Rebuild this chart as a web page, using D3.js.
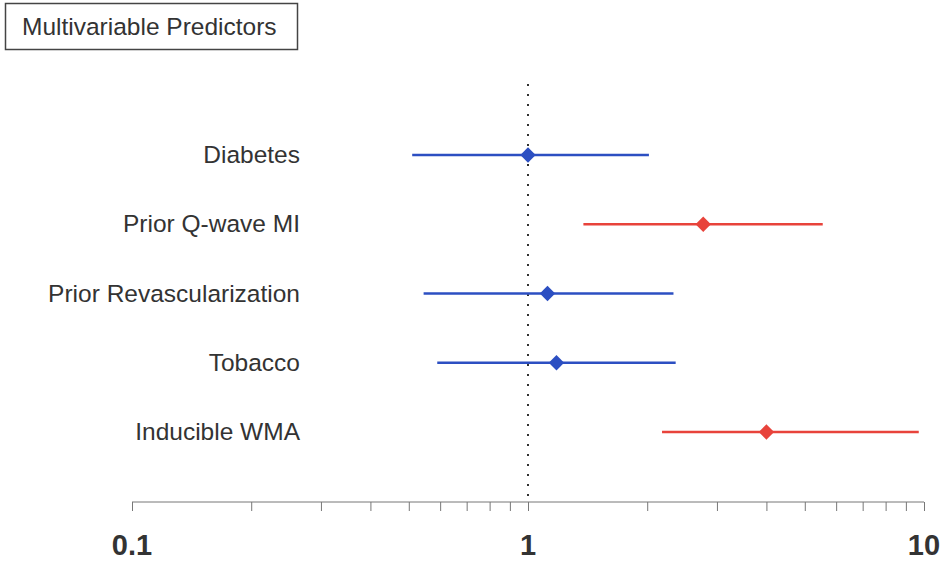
<!DOCTYPE html>
<html>
<head>
<meta charset="utf-8">
<script src="https://cdn.jsdelivr.net/npm/d3@7"></script>
<style>
  body { margin: 0; background: #fff; }
  text { font-family: "Liberation Sans", Arial, sans-serif; }
</style>
</head>
<body>
<div id="chart"></div>
<script>
// predictors, top to bottom
var predictors = ["Diabetes", "Prior Q-wave MI", "Prior Revascularization", "Tobacco", "Inducible WMA"];
var hazard = [1.0, 2.77, 1.12, 1.18, 4.0];
var lower  = [0.51, 1.38, 0.545, 0.59, 2.18];
var upper  = [2.02, 5.55, 2.33, 2.36, 9.7];
var significant = [false, true, false, false, true];
var tickLabels = [0.1, 1, 10];

var width = 945, height = 563;

var svg = d3.select("#chart").append("svg")
    .attr("width", width)
    .attr("height", height);

var x = d3.scaleLog()
  .domain([0.1, 10])
  .range([132, 924]);

var y = d3.scalePoint()
  .domain(predictors)
  .range([155, 432]);

// title box
svg.append("rect")
  .attr("x", 5.5).attr("y", 3.5)
  .attr("width", 292).attr("height", 46)
  .attr("fill", "none")
  .attr("stroke", "#444")
  .attr("stroke-width", 1.5);

svg.append("text")
  .attr("x", 22).attr("y", 35)
  .style("font-size", "24.5px")
  .style("fill", "#333")
  .text("Multivariable Predictors");

// axis
var axisY = 502;
var minorTicks = [];
[0.1, 1].forEach(function(base) {
  for (var i = 1; i < 10; i++) minorTicks.push(base * i);
});
minorTicks.push(10);

var xAxis = d3.axisBottom(x)
  .tickValues(minorTicks)
  .tickSize(9)
  .tickFormat("");

var ax = svg.append("g")
  .attr("transform", "translate(0," + axisY + ")")
  .call(xAxis);
ax.select(".domain").attr("stroke", "#777").attr("d", "M" + x(0.1) + ",0H" + x(10));
ax.selectAll(".tick line").attr("stroke", "#777");

svg.selectAll(".ticklabel")
  .data(tickLabels)
  .enter().append("text")
  .attr("class", "ticklabel")
  .attr("x", function(d) { return x(d); })
  .attr("y", 555)
  .attr("text-anchor", "middle")
  .style("font-size", "29px")
  .style("font-weight", "bold")
  .style("fill", "#333")
  .text(function(d) { return d; });

// reference line at 1
svg.append("line")
  .attr("x1", x(1)).attr("x2", x(1))
  .attr("y1", 84).attr("y2", axisY)
  .attr("stroke", "#333")
  .attr("stroke-width", 2)
  .attr("stroke-dasharray", "2,8");

// rows
var rows = predictors.map(function(p, i) {
  return { name: p, hr: hazard[i], lo: lower[i], hi: upper[i], sig: significant[i] };
});
function col(d) { return d.sig ? "#e8433b" : "#2c4fc2"; }

svg.selectAll(".label")
  .data(rows)
  .enter().append("text")
  .attr("class", "label")
  .attr("x", 300)
  .attr("y", function(d) { return y(d.name) + 8; })
  .attr("text-anchor", "end")
  .style("font-size", "24.5px")
  .style("fill", "#333")
  .text(function(d) { return d.name; });

svg.selectAll(".ci")
  .data(rows)
  .enter().append("line")
  .attr("class", "ci")
  .attr("x1", function(d) { return x(d.lo); })
  .attr("x2", function(d) { return x(d.hi); })
  .attr("y1", function(d) { return y(d.name); })
  .attr("y2", function(d) { return y(d.name); })
  .attr("stroke", col)
  .attr("stroke-width", 2.5);

svg.selectAll(".pt")
  .data(rows)
  .enter().append("path")
  .attr("class", "pt")
  .attr("d", d3.symbol().type(d3.symbolDiamond2).size(150))
  .attr("transform", function(d) { return "translate(" + x(d.hr) + "," + y(d.name) + ")"; })
  .attr("fill", col);
</script>
</body>
</html>
